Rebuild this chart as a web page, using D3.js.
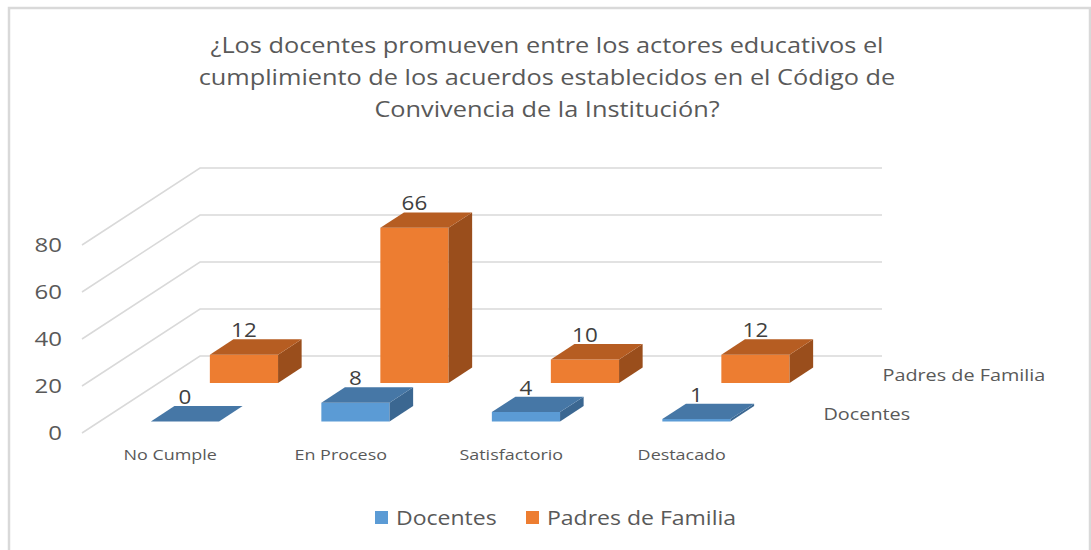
<!DOCTYPE html>
<html>
<head>
<meta charset="utf-8">
<script src="https://cdn.jsdelivr.net/npm/d3@7"></script>
<style>
  html, body { margin: 0; padding: 0; background: #fff; }
  svg { display: block; font-family: "Open Sans", "Noto Sans", sans-serif; }
</style>
</head>
<body>
<div id="chart"></div>
<script>
// data
const categories = ['No Cumple', 'En Proceso', 'Satisfactorio', 'Destacado'];
const seriesNames = ['Docentes', 'Padres de Familia'];
const docentes = [0, 8, 4, 1];
const padres = [12, 66, 10, 12];
const yTicks = [0, 20, 40, 60, 80];
const titleLines = [
  '¿Los docentes promueven entre los actores educativos el',
  'cumplimiento de los acuerdos establecidos en el Código de',
  'Convivencia de la Institución?'
];

const W = 1091, H = 550;
const svg = d3.select('#chart').append('svg')
  .attr('width', W).attr('height', H);

// the source picture is a bit wider than tall, so stretch text sideways
function stretch(sel, k) {
  sel.each(function() {
    const len = this.getComputedTextLength();
    d3.select(this).attr('textLength', len * k).attr('lengthAdjust', 'spacingAndGlyphs');
  });
}

// chart frame
svg.append('rect')
  .attr('x', 9).attr('y', 8).attr('width', 1081).attr('height', 560)
  .attr('fill', 'none').attr('stroke', '#d9d9d9').attr('stroke-width', 2.5);

// title
svg.append('g').selectAll('text').data(titleLines).enter().append('text')
  .attr('x', 547).attr('y', (d, i) => 53 + i * 32)
  .attr('text-anchor', 'middle')
  .attr('fill', '#595959').attr('font-size', 22)
  .text(d => d)
  .call(stretch, 1.15);

// oblique 3D projection: front plane + depth offset
const DX = 118, DY = -77;
const x = d3.scaleBand().domain(categories).range([82, 764]).paddingInner(0.6).paddingOuter(0.3);
const z = d3.scaleBand().domain(seriesNames).range([0, 1]).paddingInner(0.6).paddingOuter(0.3);
const y = d3.scaleLinear().domain([0, 80]).range([433, 245]);
const P = (px, d, v) => [px + DX * d, y(v) + DY * d];
const poly = pts => 'M' + pts.map(p => p.join(',')).join('L') + 'Z';

// gridlines on side and back wall
const grid = svg.append('g').attr('fill', 'none').attr('stroke', '#d9d9d9').attr('stroke-width', 1.5);
grid.selectAll('path').data(yTicks).enter().append('path')
  .attr('d', v => {
    const a = P(x.range()[0], 0, v), b = P(x.range()[0], 1, v), c = P(x.range()[1], 1, v);
    return `M${a}L${b}L${c}`;
  });

// y axis labels
svg.append('g').selectAll('text').data(yTicks).enter().append('text')
  .attr('x', 62).attr('y', v => y(v) + 7)
  .attr('text-anchor', 'end').attr('fill', '#595959').attr('font-size', 20)
  .text(d => d)
  .call(stretch, 1.2);

const colors = {
  'Docentes': {front: '#5b9bd5', top: '#4677a6', side: '#3b6791'},
  'Padres de Familia': {front: '#ed7d31', top: '#b65d22', side: '#9a4e1c'}
};

const rows = [
  {name: 'Padres de Familia', values: padres},
  {name: 'Docentes', values: docentes}
];

rows.forEach(row => {
  const c = colors[row.name];
  const d0 = z(row.name), d1 = d0 + z.bandwidth();
  const bars = row.values.map((v, i) => ({cat: categories[i], v}));
  const g = svg.append('g').selectAll('g').data(bars).enter().append('g');
  g.append('path').attr('fill', c.front)
    .attr('d', b => { const x0 = x(b.cat), x1 = x0 + x.bandwidth();
      return poly([P(x0, d0, 0), P(x1, d0, 0), P(x1, d0, b.v), P(x0, d0, b.v)]); });
  g.append('path').attr('fill', c.side)
    .attr('d', b => { const x1 = x(b.cat) + x.bandwidth();
      return poly([P(x1, d0, 0), P(x1, d1, 0), P(x1, d1, b.v), P(x1, d0, b.v)]); });
  g.append('path').attr('fill', c.top)
    .attr('d', b => { const x0 = x(b.cat), x1 = x0 + x.bandwidth();
      return poly([P(x0, d0, b.v), P(x1, d0, b.v), P(x1, d1, b.v), P(x0, d1, b.v)]); });
  g.append('text')
    .attr('x', b => P(x(b.cat) + x.bandwidth() / 2, d0, b.v)[0])
    .attr('y', b => P(0, d1, b.v)[1] - 2)
    .attr('text-anchor', 'middle').attr('fill', '#404040').attr('font-size', 20)
    .text(b => b.v)
    .call(stretch, 1.12);

  // depth axis label
  svg.append('text')
    .attr('x', P(x.range()[1], d0 + z.bandwidth() / 2, 0)[0] + 30)
    .attr('y', P(0, d0 + z.bandwidth() / 2, 0)[1] + 6)
    .attr('fill', '#595959').attr('font-size', 16.5)
    .text(row.name)
    .call(stretch, 1.2);
});

// category labels
svg.append('g').selectAll('text').data(categories).enter().append('text')
  .attr('x', d => x(d) + x.bandwidth() / 2 + 3).attr('y', 460)
  .attr('text-anchor', 'middle').attr('fill', '#595959').attr('font-size', 14)
  .text(d => d)
  .call(stretch, 1.28);

// legend
const legend = svg.append('g');
const items = [
  {name: 'Docentes', x: 375, tx: 396},
  {name: 'Padres de Familia', x: 526, tx: 547}
];
legend.selectAll('rect').data(items).enter().append('rect')
  .attr('x', d => d.x).attr('y', 511).attr('width', 13).attr('height', 13)
  .attr('fill', d => colors[d.name].front);
legend.selectAll('text').data(items).enter().append('text')
  .attr('x', d => d.tx).attr('y', 525)
  .attr('fill', '#595959').attr('font-size', 20)
  .text(d => d.name)
  .call(stretch, 1.15);
</script>
</body>
</html>
